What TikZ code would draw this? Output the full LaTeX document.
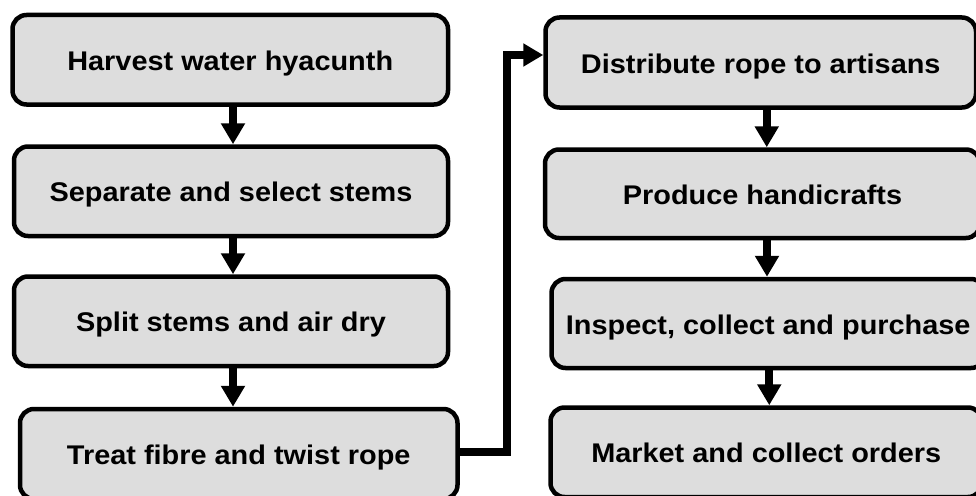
\documentclass[tikz,border=0pt]{standalone}
\usepackage{fontspec}
\setmainfont{Liberation Sans}
\newfontfamily\boxfont[FakeStretch=1.07]{Liberation Sans}
\usetikzlibrary{arrows.meta,calc}
\definecolor{boxgray}{HTML}{DDDDDD}
\begin{document}
\begin{tikzpicture}[x=1pt,y=-1pt,
  stepbox/.style={draw=black, line width=4.5pt, fill=boxgray, rounded corners=14pt,
    inner sep=0pt, text height=21pt, text depth=0pt,
    font=\boxfont\bfseries\fontsize{27}{32}\selectfont},
  arr/.style={line width=8pt, -{Triangle[width=23pt,length=21pt]}}]
\useasboundingbox (0,0) rectangle (976,495);
\clip (0,0) rectangle (976,495);
\fill[white] (0,0) rectangle (976,495);
% left column
\node[stepbox, minimum width=435.5pt, minimum height=89.5pt] (b1) at (230.25,59.75) {Harvest water hyacunth};
\node[stepbox, minimum width=434pt, minimum height=89.5pt] (b2) at (231,191.25) {Separate and select stems};
\node[stepbox, minimum width=434pt, minimum height=89.5pt] (b3) at (231,321.25) {Split stems and air dry};
\node[stepbox, minimum width=437.5pt, minimum height=90pt] (b4) at (238.75,454) {Treat fibre and twist rope};
% right column
\node[stepbox, minimum width=430.5pt, minimum height=90pt] (b5) at (760.75,62.5) {Distribute rope to artisans};
\node[stepbox, minimum width=435pt, minimum height=88.5pt] (b6) at (762.5,193.75) {Produce handicrafts};
\node[stepbox, minimum width=433.5pt, minimum height=89pt] (b7) at (768.25,323.5) {Inspect, collect and purchase};
\node[stepbox, minimum width=431.5pt, minimum height=89.5pt] (b8) at (766.25,452.25) {Market and collect orders};
% arrows
\draw[arr] ([xshift=2.75pt]b1.south) -- ([xshift=2.75pt]b1.south |- b2.north);
\draw[arr] ([xshift=2pt]b2.south) -- ([xshift=2pt]b2.south |- b3.north);
\draw[arr] ([xshift=2pt]b3.south) -- ([xshift=2pt]b3.south |- b4.north);
\draw[arr] ([xshift=6pt]b5.south) -- ([xshift=6pt]b5.south |- b6.north);
\draw[arr] ([xshift=4.5pt]b6.south) -- ([xshift=4.5pt]b6.south |- b7.north);
\draw[arr] ([xshift=1pt]b7.south) -- ([xshift=1pt]b7.south |- b8.north);
\draw[line width=8pt, -{Triangle[width=22pt,length=20pt]}]
  ([yshift=2pt]b4.east) -- ++(47.5,0) |- ([yshift=7.5pt]b5.west);
\end{tikzpicture}
\end{document}
